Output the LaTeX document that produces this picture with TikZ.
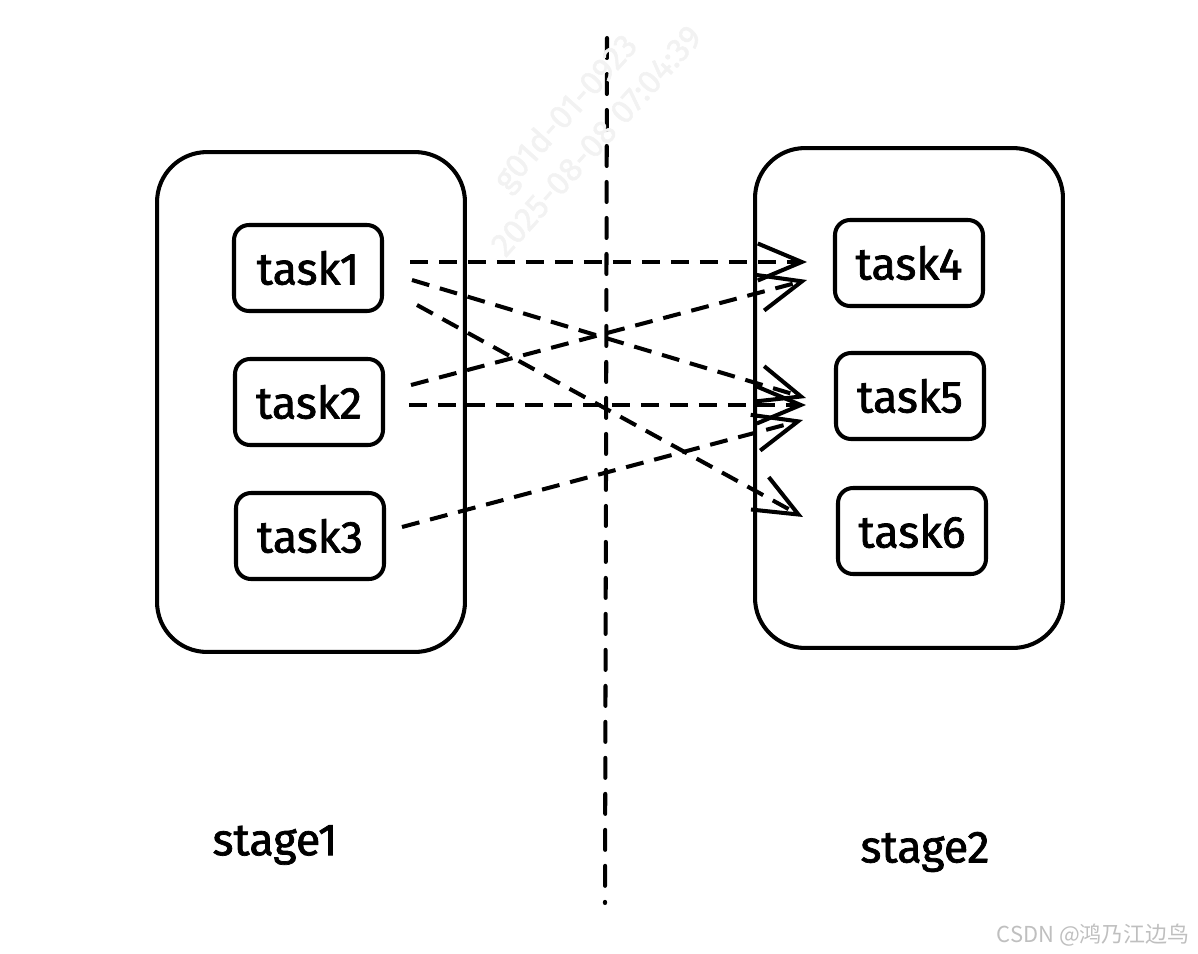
\documentclass[tikz,border=0pt]{standalone}
\usepackage{fontspec}
\setmainfont{Fira Sans}[FakeBold=1.6,AutoFakeBold=1.6]
\newfontfamily\cjk{Noto Sans CJK SC}
\usetikzlibrary{arrows.meta}
\begin{document}
\begin{tikzpicture}[x=0.02cm,y=-0.02cm]
	\tikzstyle{every node}+=[font=\bfseries\fontsize{25.5}{28}\selectfont]
	\tikzstyle{stagebox}=[draw, line width=2.3pt, rounded corners=1cm, minimum width=6.16cm, minimum height=10cm]
	\tikzstyle{taskbox}=[draw, line width=2.3pt, rounded corners=0.3cm, minimum width=2.96cm, minimum height=1.72cm]
	\tikzstyle{flow}=[line width=2.3pt, dash pattern=on 0.36cm off 0.22cm, -{Straight Barb[length=0.88cm,width=0.74cm]}]
	\useasboundingbox (0,0) rectangle (1198,954);
	% stages
	\node [stagebox] (s1) at (311,402) {};
	\node [stagebox] (s2) at (909,398) {};
	\node (s1label) at (275,845) {stage1};
	\node (s2label) at (925,852) {stage2};
	% tasks
	\node [taskbox] (task1) at (308,268) {task1};
	\node [taskbox] (task2) at (309,402) {task2};
	\node [taskbox] (task3) at (310,536) {task3};
	\node [taskbox] (task4) at (909,263) {task4};
	\node [taskbox] (task5) at (910,396) {task5};
	\node [taskbox] (task6) at (912,531) {task6};
	% divider
	\coordinate (divtop) at (607,38);
	\coordinate (divbot) at (605,903);
	\draw [line width=2.3pt, line cap=round, dash pattern=on 0.4cm off 0.32cm] (divtop) -- (divbot);
	% shuffle
	\draw [flow] ([shift={(26,-6)}]task1.east) -- ([shift={(-26,-1)}]task4.west);
	\draw [flow] ([shift={(28,12)}]task1.east) -- ([shift={(-28,2)}]task5.west);
	\draw [flow] ([shift={(33,37)}]task1.east) -- ([shift={(-33,-14)}]task6.west);
	\draw [flow] ([shift={(26,-17)}]task2.east) -- ([shift={(-26,17)}]task4.west);
	\draw [flow] ([shift={(24,3)}]task2.east) -- ([shift={(-28,9)}]task5.west);
	\draw [flow] ([shift={(16,-9)}]task3.east) -- ([shift={(-31,24)}]task5.west);
	% watermarks
	\node [rotate=48, text=black!5, font=\fontsize{19}{24}\selectfont, align=center] (wm) at (580,126) {g01d-01-0923\\2025-08-08 07:04:39};
	\node [anchor=east, text=black!25, font=\cjk\fontsize{12.5}{15}\selectfont] (csdn) at (1196,935) {CSDN @鸿乃江边鸟};
\end{tikzpicture}
\end{document}
